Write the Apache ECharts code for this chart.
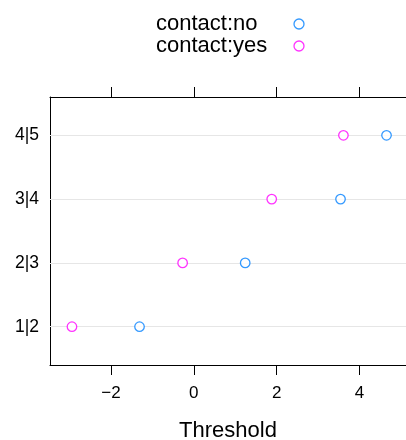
<!DOCTYPE html>
<html>
<head>
<meta charset="utf-8">
<script src="https://cdn.jsdelivr.net/npm/echarts@6/dist/echarts.min.js"></script>
<style>html,body{margin:0;padding:0;background:#fff;}#c{width:406px;height:440px;}</style>
</head>
<body>
<div id="c"></div>
<script>
var categories = ['1|2', '2|3', '3|4', '4|5'];
var contactNo = [-1.31, 1.24, 3.54, 4.65];
var contactYes = [-2.94, -0.27, 1.88, 3.61];
var xTicks = [-2, 0, 2, 4];
var seriesNames = ['contact:no', 'contact:yes'];
var seriesColors = ['#0080ff', '#ff00ff'];
var xLabel = 'Threshold';

var FONT = '"Liberation Sans", Arial, sans-serif';
var chart = echarts.init(document.getElementById('c'), null, {renderer: 'canvas'});

function pts(vals) { return vals.map(function (v, i) { return [v, i + 1]; }); }
var catPos = categories.map(function (c, i) { return i + 1; });

var xMin = -3.47, xMax = 5.12;
chart.setOption({
  animation: false,
  backgroundColor: '#fff',
  textStyle: {fontFamily: FONT},
  legend: {
    orient: 'vertical', left: 151, top: 8, align: 'right',
    itemWidth: 10, itemHeight: 10, itemGap: 0,
    formatter: function (name) { return '{t|' + name + '}'; },
    textStyle: {
      fontSize: 22, color: '#000', fontFamily: FONT, lineHeight: 22,
      rich: {t: {width: 133, align: 'left', fontSize: 22, color: '#000', fontFamily: FONT, lineHeight: 22}}
    },
    data: seriesNames.map(function (n, i) {
      return {name: n, icon: 'circle', itemStyle: {color: '#ffffff', borderColor: seriesColors[i], borderWidth: 1.3}};
    })
  },
  grid: {left: 50, right: 0, top: 97, bottom: 75, containLabel: false, outerBoundsMode: 'none'},
  xAxis: [
    {
      type: 'value', min: xMin, max: xMax, position: 'bottom',
      name: xLabel, nameLocation: 'middle', nameGap: 55,
      nameTextStyle: {fontSize: 22, color: '#000', fontFamily: FONT},
      axisLine: {show: true, onZero: false, lineStyle: {color: '#000', width: 1}},
      axisTick: {show: true, inside: false, length: 10, customValues: xTicks, lineStyle: {color: '#000'}},
      axisLabel: {show: true, customValues: xTicks, margin: 20, fontSize: 17, color: '#000', fontFamily: FONT,
        formatter: function (v) { return v < 0 ? '\u2212' + Math.abs(v) : String(v); }},
      splitLine: {show: false}
    },
    {
      type: 'value', min: xMin, max: xMax, position: 'top',
      axisLine: {show: true, onZero: false, lineStyle: {color: '#000', width: 1}},
      axisTick: {show: true, inside: false, length: 10, customValues: xTicks, lineStyle: {color: '#000'}},
      axisLabel: {show: false},
      splitLine: {show: false}
    }
  ],
  yAxis: {
    type: 'value', min: 0.4, max: 4.6, position: 'left',
    axisLine: {show: true, onZero: false, lineStyle: {color: '#000', width: 1}},
    axisTick: {show: false},
    axisLabel: {show: true, customValues: catPos, margin: 11, fontSize: 17.5, color: '#000', fontFamily: FONT,
      formatter: function (v) { return categories[Math.round(v) - 1] || ''; }},
    splitLine: {show: false}
  },
  series: [
    {
      type: 'line', data: [], silent: true, z: 1,
      markLine: {
        silent: true, symbol: 'none', label: {show: false}, z: 1,
        lineStyle: {color: '#e6e6e6', width: 1, type: 'solid'},
        data: catPos.map(function (p) { return {yAxis: p}; })
      }
    },
    {
      name: seriesNames[0], type: 'scatter', data: pts(contactNo), z: 5,
      symbol: 'circle', symbolSize: 9.5,
      itemStyle: {color: '#ffffff', borderColor: seriesColors[0], borderWidth: 1.3}
    },
    {
      name: seriesNames[1], type: 'scatter', data: pts(contactYes), z: 5,
      symbol: 'circle', symbolSize: 9.5,
      itemStyle: {color: '#ffffff', borderColor: seriesColors[1], borderWidth: 1.3}
    }
  ]
});
</script>
</body>
</html>
